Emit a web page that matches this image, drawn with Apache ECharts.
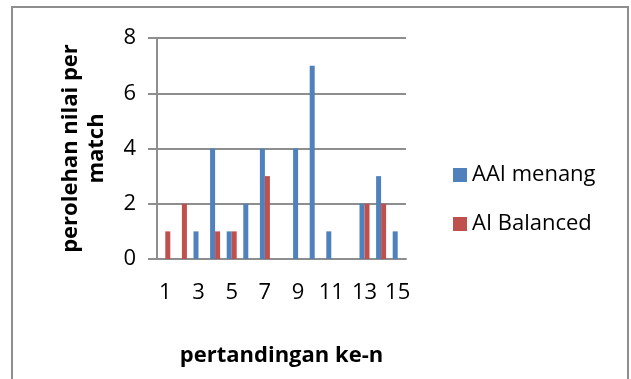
<!DOCTYPE html>
<html>
<head>
<meta charset="utf-8">
<script src="https://cdn.jsdelivr.net/npm/echarts@6/dist/echarts.min.js"></script>
<style>html,body{margin:0;padding:0;background:#fff}#c{width:631px;height:379px}</style>
</head>
<body>
<div id="c"></div>
<script>
var categories = ['1','2','3','4','5','6','7','8','9','10','11','12','13','14','15'];
var aaiMenang = [0,0,1,4,1,2,4,0,4,7,1,0,2,3,1];
var aiBalanced = [1,2,0,1,1,0,3,0,0,0,0,0,2,2,0];
var yTicks = [0,2,4,6,8];
var seriesNames = ['AAI menang','AI Balanced'];
var xTitle = 'pertandingan ke-n';
var yTitle = 'perolehan nilai per\nmatch';

var FONT = 'Open Sans';
var gray = '#8e8e8e';
var chart = echarts.init(document.getElementById('c'), null, {renderer:'canvas'});
chart.setOption({
  animation:false,
  backgroundColor:'#fff',
  graphic:[{type:'rect',shape:{x:12,y:7,width:616,height:390},style:{fill:'none',stroke:gray,lineWidth:2},silent:true}],
  grid:{left:157,right:225,top:38,bottom:120,containLabel:false},
  legend:{
    orient:'vertical',left:448,top:154,itemWidth:14,itemHeight:14,itemGap:17,icon:'rect',
    textStyle:{fontFamily:FONT,fontSize:22,color:'#000',lineHeight:22,padding:[10,0,0,0]},
    data:seriesNames
  },
  xAxis:{
    type:'category',data:categories,
    axisTick:{show:false},
    axisLine:{lineStyle:{color:gray,width:2}},
    axisLabel:{interval:1,fontFamily:FONT,fontSize:22,color:'#000',margin:23},
    name:xTitle,nameLocation:'middle',nameGap:86,
    nameTextStyle:{fontFamily:FONT,fontSize:22,fontWeight:'bold',color:'#000'}
  },
  yAxis:{
    type:'value',min:yTicks[0],max:yTicks[yTicks.length-1],interval:2,
    axisLine:{show:true,lineStyle:{color:gray,width:2}},
    axisTick:{show:true,length:9,lineStyle:{color:gray,width:2}},
    splitLine:{lineStyle:{color:gray,width:2}},
    axisLabel:{fontFamily:FONT,fontSize:22,color:'#000',margin:21},
    name:yTitle,nameLocation:'middle',nameRotate:90,nameGap:47,
    nameTextStyle:{fontFamily:FONT,fontSize:22,fontWeight:'bold',color:'#000',lineHeight:26}
  },
  series:[
    {name:seriesNames[0],type:'bar',data:aaiMenang,barWidth:5,barGap:'0%',itemStyle:{color:'#4F81BD'}},
    {name:seriesNames[1],type:'bar',data:aiBalanced,barWidth:5,barGap:'0%',itemStyle:{color:'#C0504D'}}
  ]
});
</script>
</body>
</html>
